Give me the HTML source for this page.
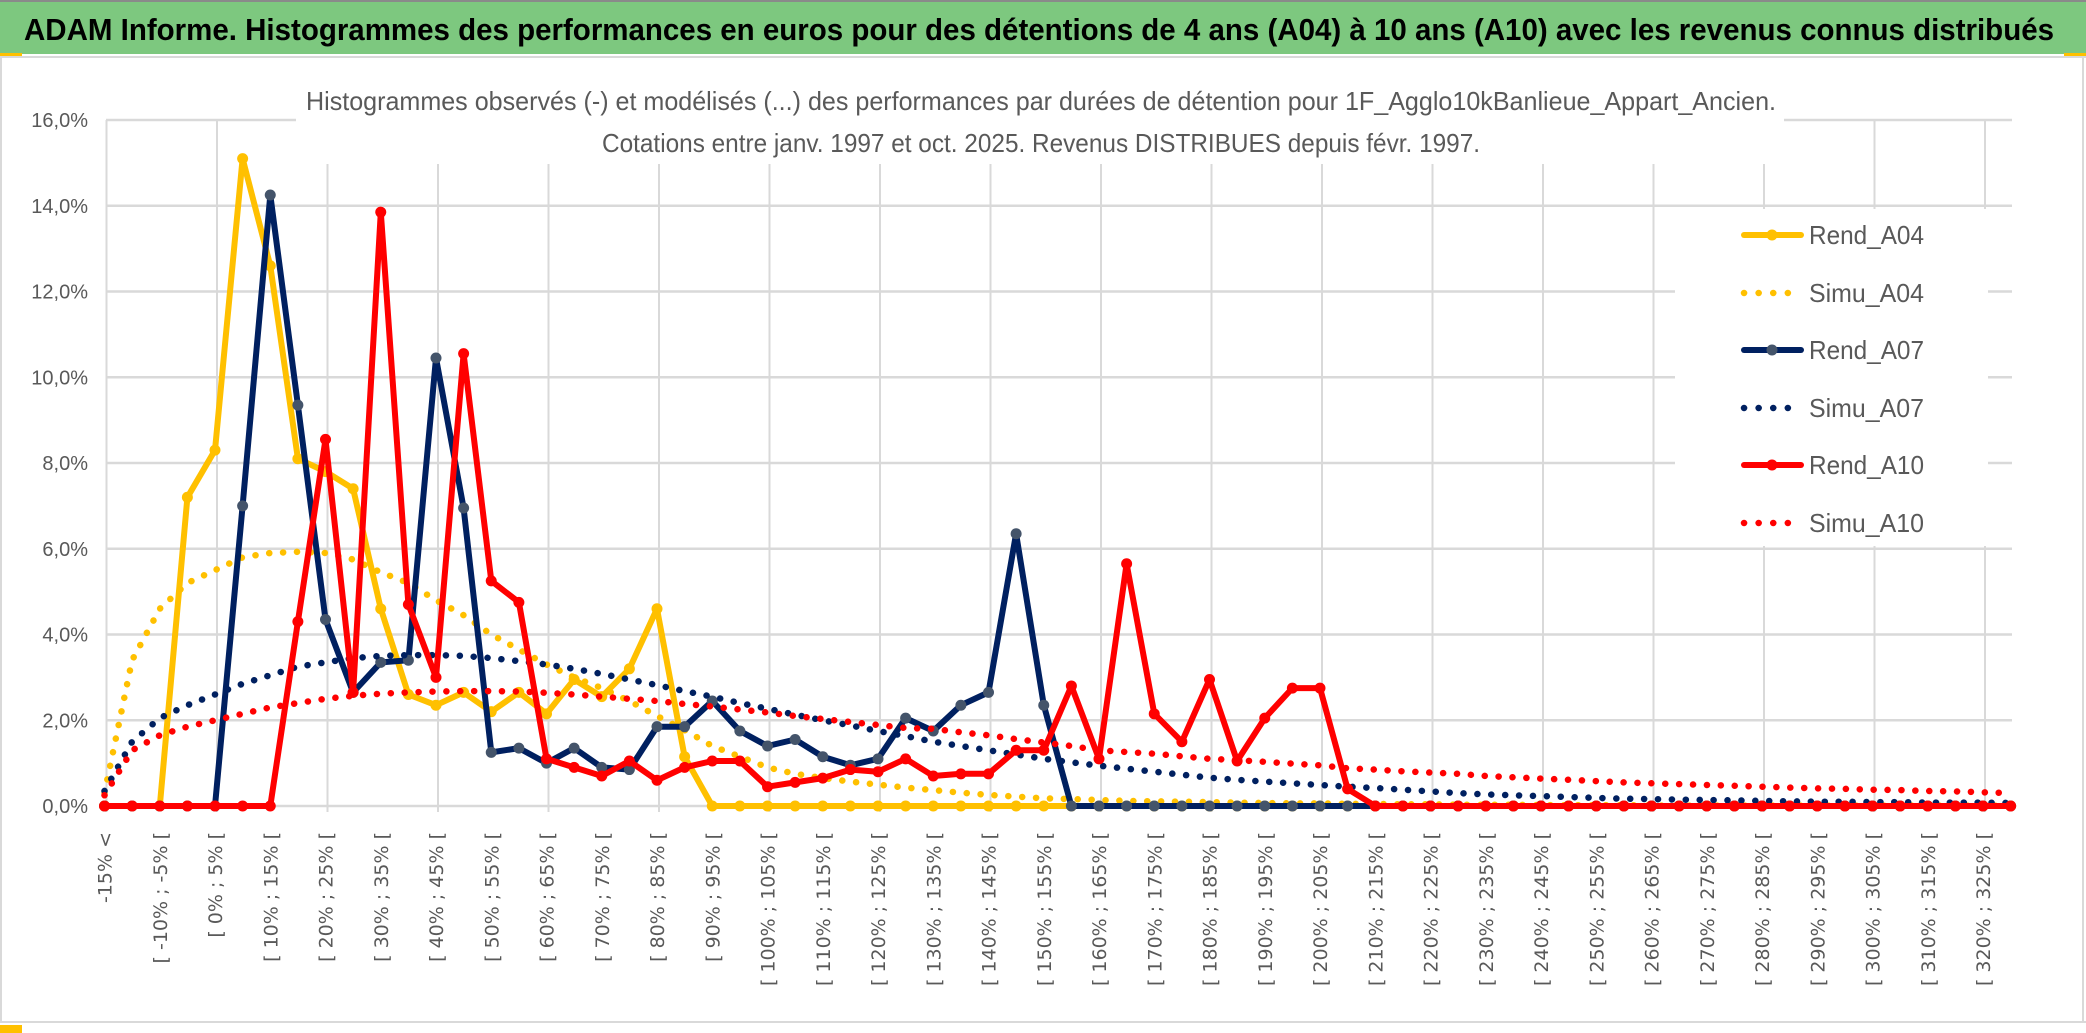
<!DOCTYPE html>
<html><head><meta charset="utf-8"><style>
html,body{margin:0;padding:0;background:#fff;}
svg{display:block;}
</style></head><body>
<svg id="chart" width="2086" height="1033" viewBox="0 0 2086 1033" xmlns="http://www.w3.org/2000/svg">
<rect x="0" y="0" width="2086" height="1033" fill="#fff"/>
<rect x="0" y="0" width="2086" height="54" fill="#7DC87F"/>
<line x1="0" y1="1" x2="2086" y2="1" stroke="#8a8a8a" stroke-width="2"/>
<text x="24" y="40" font-family="Liberation Sans, sans-serif" font-weight="bold" font-size="31" fill="#000" textLength="2030" lengthAdjust="spacingAndGlyphs">ADAM Informe. Histogrammes des performances en euros pour des détentions de 4 ans (A04) à 10 ans (A10) avec les revenus connus distribués</text>
<line x1="0" y1="57" x2="2086" y2="57" stroke="#d9d9d9" stroke-width="2"/>
<rect x="0" y="53" width="22" height="3" fill="#FFC000"/>
<rect x="2064" y="53" width="22" height="3" fill="#FFC000"/>
<line x1="1" y1="57" x2="1" y2="1022" stroke="#d9d9d9" stroke-width="2"/>
<line x1="2083" y1="57" x2="2083" y2="1022" stroke="#d9d9d9" stroke-width="2"/>
<line x1="0" y1="1022" x2="2086" y2="1022" stroke="#d9d9d9" stroke-width="2"/>
<rect x="0" y="1025" width="22" height="8" fill="#FFC000"/>
<g id="grid"></g>
<g id="series"></g>
<g id="axes"></g>
<rect x="296" y="62" width="1488" height="102" fill="#fff"/>
<text x="1041" y="110" text-anchor="middle" font-family="Liberation Sans, sans-serif" font-size="26" fill="#595959" textLength="1470" lengthAdjust="spacingAndGlyphs">Histogrammes observés (-) et modélisés (...) des performances par durées de détention pour 1F_Agglo10kBanlieue_Appart_Ancien.</text>
<text x="1041" y="152" text-anchor="middle" font-family="Liberation Sans, sans-serif" font-size="26" fill="#595959" textLength="878" lengthAdjust="spacingAndGlyphs">Cotations entre janv. 1997 et oct. 2025. Revenus DISTRIBUES depuis févr. 1997.</text>
<g id="legend"></g>
</svg>
<script>
const categories = ["-15% <","[ -15% ; -10% [","[ -10% ; -5% [","[ -5% ; 0% [","[ 0% ; 5% [","[ 5% ; 10% [","[ 10% ; 15% [","[ 15% ; 20% [","[ 20% ; 25% [","[ 25% ; 30% [","[ 30% ; 35% [","[ 35% ; 40% [","[ 40% ; 45% [","[ 45% ; 50% [","[ 50% ; 55% [","[ 55% ; 60% [","[ 60% ; 65% [","[ 65% ; 70% [","[ 70% ; 75% [","[ 75% ; 80% [","[ 80% ; 85% [","[ 85% ; 90% [","[ 90% ; 95% [","[ 95% ; 100% [","[ 100% ; 105% [","[ 105% ; 110% [","[ 110% ; 115% [","[ 115% ; 120% [","[ 120% ; 125% [","[ 125% ; 130% [","[ 130% ; 135% [","[ 135% ; 140% [","[ 140% ; 145% [","[ 145% ; 150% [","[ 150% ; 155% [","[ 155% ; 160% [","[ 160% ; 165% [","[ 165% ; 170% [","[ 170% ; 175% [","[ 175% ; 180% [","[ 180% ; 185% [","[ 185% ; 190% [","[ 190% ; 195% [","[ 195% ; 200% [","[ 200% ; 205% [","[ 205% ; 210% [","[ 210% ; 215% [","[ 215% ; 220% [","[ 220% ; 225% [","[ 225% ; 230% [","[ 230% ; 235% [","[ 235% ; 240% [","[ 240% ; 245% [","[ 245% ; 250% [","[ 250% ; 255% [","[ 255% ; 260% [","[ 260% ; 265% [","[ 265% ; 270% [","[ 270% ; 275% [","[ 275% ; 280% [","[ 280% ; 285% [","[ 285% ; 290% [","[ 290% ; 295% [","[ 295% ; 300% [","[ 300% ; 305% [","[ 305% ; 310% [","[ 310% ; 315% [","[ 315% ; 320% [","[ 320% ; 325% [","[ 325% ; 330% ["];
const yTicks = [0,2,4,6,8,10,12,14,16];
const yTickLabels = ["0,0%","2,0%","4,0%","6,0%","8,0%","10,0%","12,0%","14,0%","16,0%"];
const rendA04 = [0,0,0,7.2,8.3,15.1,12.6,8.1,7.8,7.4,4.6,2.6,2.35,2.65,2.2,2.65,2.15,2.95,2.55,3.2,4.6,1.15,0,0,0,0,0,0,0,0,0,0,0,0,0,0,0,0,0,0,0,0,0,0,0,0,0,0,0,0,0,0,0,0,0,0,0,0,0,0,0,0,0,0,0,0,0,0,0,0];
const simuA04 = [0.3,3.4,4.6,5.2,5.5,5.8,5.9,5.93,5.9,5.75,5.45,5.2,4.8,4.45,4.0,3.65,3.3,3.0,2.75,2.45,2.1,1.77,1.4,1.15,0.9,0.75,0.65,0.57,0.5,0.43,0.37,0.31,0.26,0.22,0.18,0.16,0.14,0.12,0.11,0.1,0.09,0.08,0.07,0.06,0.06,0.05,0.05,0.04,0.04,0.03,0.03,0.03,0.02,0.02,0.02,0.02,0.01,0.01,0.01,0.01,0.01,0.01,0.01,0.01,0.01,0.01,0.01,0.01,0.01,0.01];
const rendA07 = [0,0,0,0,0,7.0,14.25,9.35,4.35,2.65,3.35,3.4,10.45,6.95,1.25,1.35,1.0,1.35,0.9,0.85,1.85,1.85,2.45,1.75,1.4,1.55,1.15,0.95,1.1,2.05,1.75,2.35,2.65,6.35,2.35,0,0,0,0,0,0,0,0,0,0,0,0,0,0,0,0,0,0,0,0,0,0,0,0,0,0,0,0,0,0,0,0,0,0,0];
const simuA07 = [0.35,1.5,2.05,2.35,2.6,2.85,3.05,3.25,3.35,3.45,3.5,3.52,3.52,3.5,3.45,3.38,3.3,3.2,3.08,2.95,2.82,2.68,2.55,2.4,2.27,2.13,2.0,1.88,1.75,1.63,1.5,1.4,1.3,1.2,1.1,1.02,0.94,0.87,0.8,0.73,0.66,0.61,0.57,0.53,0.49,0.45,0.42,0.38,0.34,0.3,0.27,0.25,0.23,0.21,0.19,0.17,0.16,0.15,0.14,0.13,0.12,0.11,0.1,0.1,0.09,0.09,0.08,0.08,0.08,0.07];
const rendA10 = [0,0,0,0,0,0,0,4.3,8.55,2.65,13.85,4.7,3.0,10.55,5.25,4.75,1.1,0.9,0.7,1.05,0.6,0.9,1.05,1.05,0.45,0.55,0.65,0.85,0.8,1.1,0.7,0.75,0.75,1.3,1.3,2.8,1.1,5.65,2.15,1.5,2.95,1.05,2.05,2.75,2.75,0.4,0,0,0,0,0,0,0,0,0,0,0,0,0,0,0,0,0,0,0,0,0,0,0,0];
const simuA10 = [0.25,1.3,1.65,1.85,2.0,2.15,2.3,2.4,2.5,2.57,2.62,2.65,2.67,2.68,2.68,2.67,2.64,2.6,2.55,2.5,2.45,2.38,2.32,2.25,2.18,2.1,2.03,1.96,1.89,1.82,1.8,1.72,1.65,1.56,1.48,1.4,1.3,1.26,1.22,1.16,1.1,1.07,1.03,0.99,0.95,0.88,0.85,0.81,0.78,0.75,0.7,0.67,0.64,0.61,0.58,0.55,0.53,0.51,0.49,0.47,0.45,0.43,0.41,0.4,0.38,0.37,0.35,0.34,0.32,0.3];

const NS = "http://www.w3.org/2000/svg";
const X0 = 104.5, DX = 27.625, Y0 = 806, PY = 42.875;
function xScale(i){ return X0 + i*DX; }
function yScale(v){ return Y0 - v*PY; }
function mk(tag, attrs, parent){
  const e = document.createElementNS(NS, tag);
  for (const k in attrs) e.setAttribute(k, attrs[k]);
  parent.appendChild(e);
  return e;
}
const grid = document.getElementById('grid');
const axes = document.getElementById('axes');
const seriesG = document.getElementById('series');
const legend = document.getElementById('legend');

yTicks.forEach((t, i) => {
  const l = mk('line', {x1: 106, x2: 2012, y1: yScale(t), y2: yScale(t), stroke: '#d9d9d9', 'stroke-width': 2.5}, grid);
  
  
  const tx = mk('text', {x: 88, y: yScale(t) + 7, 'text-anchor': 'end', 'font-family': 'Liberation Sans, sans-serif', 'font-size': 20, fill: '#595959'}, axes);
  tx.textContent = yTickLabels[i];
  
  
});
for (let i = 0; i < categories.length; i += 4) {
  const x = 106.5 + (i/4)*110.5;
  const l = mk('line', {x1: x, x2: x, y1: 120, y2: 812, stroke: '#d9d9d9', 'stroke-width': 2}, grid);
  
  
}
categories.forEach((c, i) => {
  if (i % 2 !== 0) return;
  const x = xScale(i) + 7;
  const tx = mk('text', {x: 0, y: 0, transform: 'translate(' + x + ',832) rotate(-90)', 'text-anchor': 'end', 'font-family': 'DejaVu Sans, sans-serif', 'font-size': 19, fill: '#595959'}, axes);
  tx.textContent = c;
  
  
});

function pts(arr){ return arr.map((v, i) => xScale(i).toFixed(1) + ',' + yScale(v).toFixed(1)).join(' '); }
function drawRend(arr, color, mcolor, name){
  const g = mk('g', {}, seriesG);
  
  
  const p = mk('polyline', {points: pts(arr), fill: 'none', stroke: color, 'stroke-width': 6, 'stroke-linejoin': 'round', 'stroke-linecap': 'round'}, g);
  
  
  arr.forEach((v, i) => {
    const c = mk('circle', {cx: xScale(i), cy: yScale(v), r: 5.5, fill: mcolor}, g);
    
    
  });
}
function drawSimu(arr, color, name){
  const p = mk('polyline', {points: pts(arr), fill: 'none', stroke: color, 'stroke-width': 6.5, 'stroke-dasharray': '0.1 13.8', 'stroke-linecap': 'round'}, seriesG);
  
  
}
drawRend(rendA04, '#FFC000', '#FFC000', 'rend-a04');
drawSimu(simuA04, '#FFC000', 'simu-a04');
drawRend(rendA07, '#002060', '#44546A', 'rend-a07');
drawSimu(simuA07, '#002060', 'simu-a07');
drawRend(rendA10, '#FF0000', '#FF0000', 'rend-a10');
drawSimu(simuA10, '#FF0000', 'simu-a10');

const lb = mk('rect', {x: 1675, y: 209, width: 313, height: 337, fill: '#fff'}, legend);


const legendNames = ["Rend_A04","Simu_A04","Rend_A07","Simu_A07","Rend_A10","Simu_A10"];
const legendColors = ["#FFC000","#FFC000","#002060","#002060","#FF0000","#FF0000"];
const legendMarkers = ["#FFC000",null,"#44546A",null,"#FF0000",null];
const legendY = [235,293,350,408,465,523];
legendNames.forEach((n, i) => {
  const y = legendY[i];
  const g = mk('g', {}, legend);
  
  
  if (legendMarkers[i]) {
    mk('line', {x1: 1744, x2: 1801, y1: y, y2: y, stroke: legendColors[i], 'stroke-width': 6, 'stroke-linecap': 'round'}, g);
    mk('circle', {cx: 1772, cy: y, r: 5.5, fill: legendMarkers[i]}, g);
  } else {
    mk('line', {x1: 1744, x2: 1801, y1: y, y2: y, stroke: legendColors[i], 'stroke-width': 6.5, 'stroke-dasharray': '0.1 14.5', 'stroke-linecap': 'round'}, g);
  }
  const t = mk('text', {x: 1809, y: y + 9, 'font-family': 'Liberation Sans, sans-serif', 'font-size': 26, fill: '#595959', textLength: 115, lengthAdjust: 'spacingAndGlyphs'}, g);
  t.textContent = n;
});
</script>
</body></html>
